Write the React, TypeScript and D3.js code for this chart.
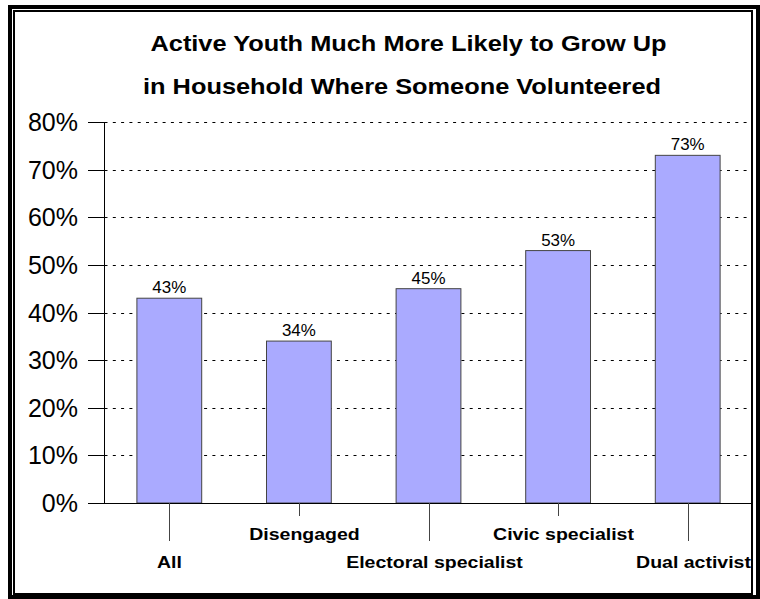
import React from "react";
import * as d3 from "d3";

const categories = ["All", "Disengaged", "Electoral specialist", "Civic specialist", "Dual activist"];
const values = [43, 34, 45, 53, 73];
const yTicks = [0, 10, 20, 30, 40, 50, 60, 70, 80];
const titleLines = [
  "Active Youth Much More Likely to Grow Up",
  "in Household Where Someone Volunteered",
];

export default function App() {
  const W = 760;
  const H = 599;
  const x0 = 104.5;
  const x1 = 752.5;
  const y = d3.scaleLinear().domain([0, 80]).range([503, 122]);
  const x = d3.scaleBand<string>().domain(categories).range([x0, x1]).paddingInner(0).paddingOuter(0);
  const bw = x.bandwidth() * 0.5;
  const font = "Arial, 'Liberation Sans', Helvetica, sans-serif";
  const titleCx = [408.5, 402];

  return (
    <svg width={W} height={H} style={{ position: "absolute", left: 0, top: 0, display: "block" }}>
      <rect x={0} y={0} width={W} height={H} fill="#fff" />
      {/* frame */}
      <rect x={10} y={7} width={748} height={590} fill="none" stroke="#000" strokeWidth={4} />
      <rect x={14} y={11} width={738} height={583} fill="none" stroke="#000" strokeWidth={2} />

      {/* title */}
      {titleLines.map((t, i) => (
        <text
          key={i}
          transform={`translate(${titleCx[i]},${51 + i * 43}) scale(1.18,1)`}
          textAnchor="middle"
          fontFamily={font}
          fontWeight="bold"
          fontSize={21.5}
          fill="#000"
        >
          {t}
        </text>
      ))}

      {/* gridlines */}
      {yTicks.filter((t) => t > 0).map((t) => (
        <line key={"g" + t} x1={x0} x2={x1} y1={Math.round(y(t)) + 0.5} y2={Math.round(y(t)) + 0.5} stroke="#000" strokeWidth={1} strokeDasharray="3,5.3" />
      ))}

      {/* bars */}
      {categories.map((c, i) => {
        const cx = (x(c) as number) + x.bandwidth() / 2;
        const top = y(values[i]);
        return (
          <g key={c}>
            <rect x={cx - bw / 2} y={top} width={bw} height={y(0) - top} fill="#AAAAFF" stroke="#444" strokeWidth={1} />
            <text transform={`translate(${cx},${top - 5}) scale(1.06,1)`} textAnchor="middle" fontFamily={font} fontSize={16} fill="#000">
              {values[i]}%
            </text>
          </g>
        );
      })}

      {/* y axis */}
      <line x1={x0} x2={x0} y1={y(80)} y2={y(0)} stroke="#000" strokeWidth={1} />
      {yTicks.map((t) => (
        <g key={"t" + t}>
          <line x1={88} x2={t === 0 ? x1 : x0} y1={Math.round(y(t)) + 0.5} y2={Math.round(y(t)) + 0.5} stroke="#000" strokeWidth={1} />
          <text x={78} y={y(t) + 9} textAnchor="end" fontFamily={font} fontSize={25} fill="#000">
            {t}%
          </text>
        </g>
      ))}

      {/* x axis category ticks and labels */}
      {categories.map((c, i) => {
        const cx = Math.round((x(c) as number) + x.bandwidth() / 2) + 0.5;
        const long = i % 2 === 0;
        const dx = i === 0 ? 0 : 5;
        return (
          <g key={"x" + c}>
            <line x1={cx} x2={cx} y1={y(0)} y2={long ? 541 : 516} stroke="#444" strokeWidth={1} />
            <text
              transform={`translate(${cx + dx},${long ? 568 : 540}) scale(1.22,1)`}
              textAnchor="middle"
              fontFamily={font}
              fontWeight="bold"
              fontSize={16}
              fill="#000"
            >
              {c}
            </text>
          </g>
        );
      })}
    </svg>
  );
}
